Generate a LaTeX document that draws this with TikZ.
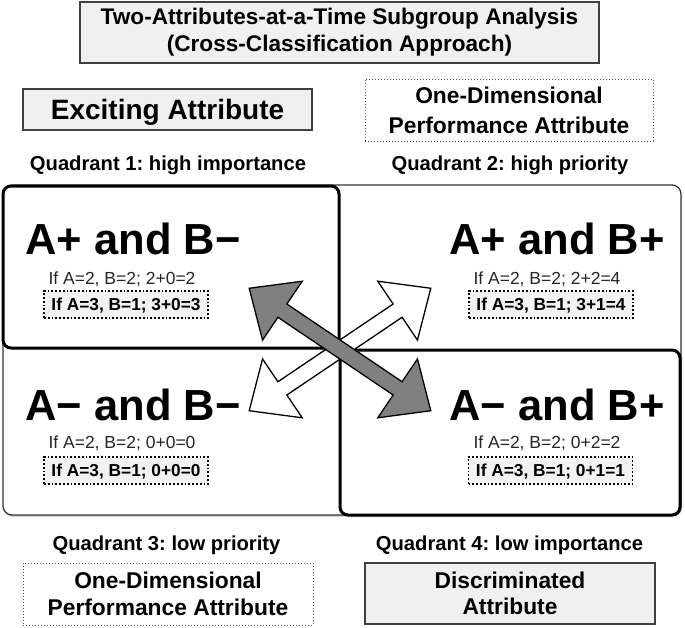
\documentclass[tikz,border=0pt]{standalone}
\usepackage{fontspec}
\setmainfont{Liberation Sans}
\usetikzlibrary{shadows}
\frenchspacing
\begin{document}
\begin{tikzpicture}[x=1pt,y=-1pt,
  every node/.style={inner sep=0pt, outer sep=0pt},
  lbl/.style={font=\bfseries\fontsize{20.2}{24}\selectfont, text height=14.5pt, text depth=0pt},
  graybox/.style={draw=black!75, line width=1.3pt, fill=gray!12},
  dotbox/.style={draw=black!70, dotted, line width=1pt},
  big/.style={font=\bfseries\fontsize{43.5}{50}\selectfont, text height=31.2pt, text depth=0pt},
  small/.style={font=\fontsize{17.5}{20}\selectfont, text height=12.5pt, text depth=0pt, text=black!85},
  calcbox/.style={draw=black, dotted, line width=1.8pt, fill=gray!10, font=\bfseries\fontsize{17.3}{20}\selectfont, text height=12.4pt, text depth=0pt, minimum width=164pt, minimum height=27pt},
  quadbox/.style={draw=black, line width=3pt, rounded corners=8pt, rectangle},
  blockarrow/.style={draw=black, line width=1.3pt, line join=miter}
]
\useasboundingbox (0,0) rectangle (685,627);

% header boxes
\node[graybox, minimum width=519pt, minimum height=61pt, align=center,
      font=\bfseries\fontsize{22.6}{27}\selectfont] (title) at (339.5,32.5)
  {Two-Attributes-at-a-Time Subgroup Analysis\\(Cross-Classification Approach)};
\node[graybox, minimum width=289pt, minimum height=41pt,
      font=\bfseries\fontsize{28}{32}\selectfont, text height=20pt, text depth=0pt] (excite) at (167.5,109.5)
  {Exciting Attribute};
\node[dotbox, minimum width=288pt, minimum height=62pt, align=center,
      font=\bfseries\fontsize{22.8}{30}\selectfont] (oneup) at (509,110)
  {One-Dimensional\\Performance Attribute};

\node[lbl] (q1) at (168,163) {Quadrant 1: high importance};
\node[lbl] (q2) at (510,163) {Quadrant 2: high priority};

% frame and quadrant boxes
\node[draw=black!80, line width=1.3pt, rounded corners=9pt, fill=white, rectangle,
      minimum width=678pt, minimum height=330pt,
      drop shadow={shadow xshift=1pt, shadow yshift=-2pt, opacity=0.35}] (frame) at (342,350) {};
\node[quadbox, minimum width=336pt, minimum height=162pt] (quad1) at (171,267) {};
\node[quadbox, minimum width=340pt, minimum height=165pt] (quad4) at (510,432.5) {};

% quadrant texts
\node[big] (ab1) at (133,239) {A+ and B−};
\node[big] (ab2) at (557,239) {A+ and B+};
\node[big] (ab3) at (133,405) {A− and B−};
\node[big] (ab4) at (557,405) {A− and B+};

\node[small] (s1) at (122,278.5) {If A=2, B=2; 2+0=2};
\node[small] (s2) at (547,278.5) {If A=2, B=2; 2+2=4};
\node[small] (s3) at (122,442) {If A=2, B=2; 0+0=0};
\node[small] (s4) at (547,442) {If A=2, B=2; 0+2=2};

\node[calcbox] (c1) at (126,304.5) {If A=3, B=1; 3+0=3};
\node[calcbox] (c2) at (551,304.5) {If A=3, B=1; 3+1=4};
\node[calcbox] (c3) at (126,470.5) {If A=3, B=1; 0+0=0};
\node[calcbox] (c4) at (550.5,470.5) {If A=3, B=1; 0+1=1};

% block arrows
\begin{scope}[shift={(340,349.5)}, rotate=34]
  \draw[blockarrow, fill=white] (-109.5,0) -- (-69.5,35.5) -- (-69.5,8) -- (69.5,8) -- (69.5,35.5)
    -- (109.5,0) -- (69.5,-35.5) -- (69.5,-8) -- (-69.5,-8) -- (-69.5,-35.5) -- cycle;
\end{scope}
\begin{scope}[shift={(340,349.5)}, rotate=-34]
  \draw[blockarrow, fill=gray] (-109.5,0) -- (-69.5,35.5) -- (-69.5,8) -- (69.5,8) -- (69.5,35.5)
    -- (109.5,0) -- (69.5,-35.5) -- (69.5,-8) -- (-69.5,-8) -- (-69.5,-35.5) -- cycle;
\end{scope}

% bottom labels and boxes
\node[lbl] (q3) at (166.5,543) {Quadrant 3: low priority};
\node[lbl] (q4) at (509.5,543) {Quadrant 4: low importance};
\node[dotbox, minimum width=290pt, minimum height=62pt, align=center,
      font=\bfseries\fontsize{22.8}{27}\selectfont] (onedown) at (168,594)
  {One-Dimensional\\Performance Attribute};
\node[graybox, minimum width=290pt, minimum height=61pt, align=center,
      font=\bfseries\fontsize{22.8}{26}\selectfont] (discr) at (510,593.5)
  {Discriminated\\Attribute};
\end{tikzpicture}
\end{document}
